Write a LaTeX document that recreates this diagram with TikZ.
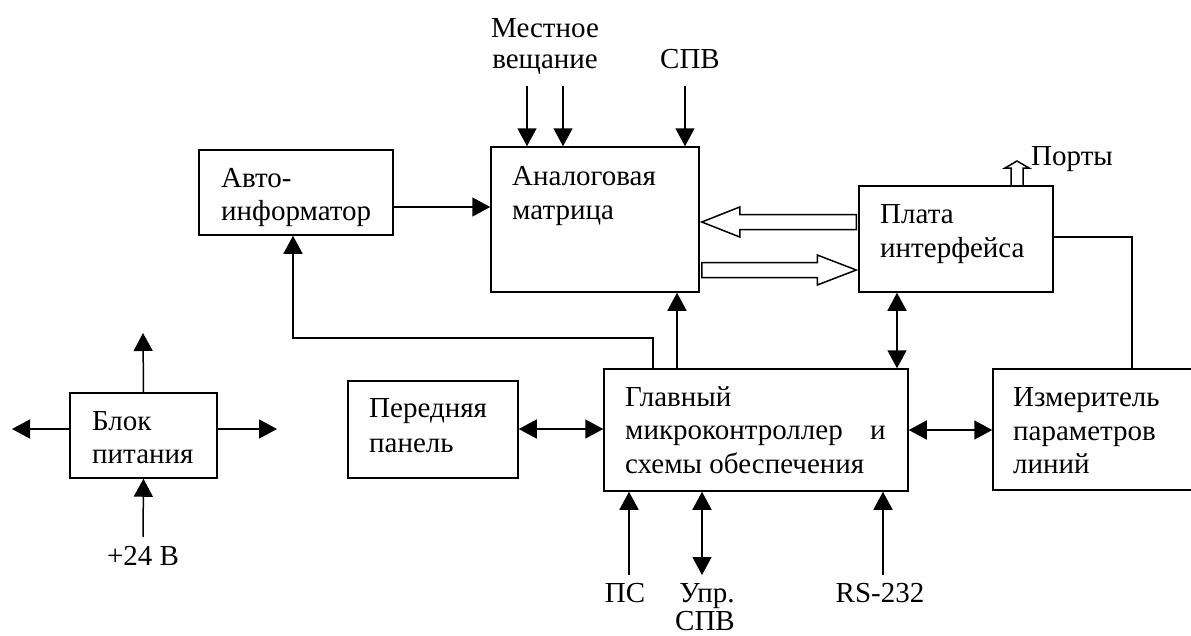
\documentclass[tikz,border=0pt]{standalone}
\usepackage{fontspec}
\setmainfont{Liberation Serif}
\usetikzlibrary{arrows.meta,calc}
\begin{document}
\begin{tikzpicture}[x=1pt,y=-1pt,
  blk/.style={draw,line width=1.5pt,inner sep=0pt},
  txt/.style={anchor=base west,inner sep=0pt,font=\fontsize{29}{34}\selectfont},
  ctxt/.style={anchor=base,inner sep=0pt,font=\fontsize{29}{34}\selectfont},
  conn/.style={line width=1.5pt},
  tip/.style={-{Triangle[length=18pt,width=19pt]}},
  tips/.style={{Triangle[length=18pt,width=19pt]}-{Triangle[length=18pt,width=19pt]}},
  hollow/.style={draw,line width=1.5pt,fill=white,line join=miter}]
\useasboundingbox (0,0) rectangle (1191,635);
\clip (0,0) rectangle (1191,635);
\fill[white] (0,0) rectangle (1191,635);
% boxes
\node[blk,minimum width=194pt,minimum height=85pt] (avto) at (296,192.5) {};
\node[blk,minimum width=208pt,minimum height=145pt] (matr) at (595,219.5) {};
\node[blk,minimum width=194pt,minimum height=106pt] (plata) at (956,239) {};
\node[blk,minimum width=147pt,minimum height=85pt] (bp) at (143.5,435.5) {};
\node[blk,minimum width=170pt,minimum height=97pt] (pp) at (433,429.5) {};
\node[blk,minimum width=304pt,minimum height=122pt] (main) at (756,430) {};
\node[blk,minimum width=207pt,minimum height=121pt] (izm) at (1096.5,429.5) {};
% texts in boxes
\node[txt] (avto1) at (221,187) {Авто-};
\node[txt] (avto2) at (221,220) {информатор};
\node[txt] (matr1) at (512,185) {Аналоговая};
\node[txt] (matr2) at (512,219) {матрица};
\node[txt] (plata1) at (880,223) {Плата};
\node[txt] (plata2) at (880,257) {интерфейса};
\node[txt] (bp1) at (92,430) {Блок};
\node[txt] (bp2) at (92,463) {питания};
\node[txt] (pp1) at (369,417) {Передняя};
\node[txt] (pp2) at (369,452) {панель};
\node[txt] (main1) at (625,406) {Главный};
\node[txt] (main2) at (625,439) {микроконтроллер};
\node[txt] (main2b) at (870,439) {и};
\node[txt] (main3) at (625,473) {схемы обеспечения};
\node[txt] (izm1) at (1013,406) {Измеритель};
\node[txt] (izm2) at (1013,440) {параметров};
\node[txt] (izm3) at (1013,473) {линий};
% outer labels
\node[ctxt] (lv1) at (545,37) {Местное};
\node[ctxt] (lv2) at (545,68) {вещание};
\node[ctxt] (spv) at (690,68) {СПВ};
\node[txt] (ports) at (1031,165) {Порты};
\node[ctxt] (ps) at (625,602) {ПС};
\node[ctxt] (upr1) at (707,602) {Упр.};
\node[ctxt] (upr2) at (705,630) {СПВ};
\node[ctxt] (rs) at (880,602) {RS-232};
\node[ctxt] (v24) at (143,565) {+24 В};
% coordinates
\coordinate (t1) at (527,86);
\coordinate (t2) at (563,86);
\coordinate (t3) at (685,86);
\coordinate (bpu) at (143,333);
\coordinate (bpl) at (12,429);
\coordinate (bpr) at (277,429);
\coordinate (bpd) at (143,537);
\coordinate (b1) at (629,575);
\coordinate (b2) at (702,575);
\coordinate (b3) at (883,575);
% connectors
\draw[conn,tip] (t1) -- (t1 |- matr.north);
\draw[conn,tip] (t2) -- (t2 |- matr.north);
\draw[conn,tip] (t3) -- (t3 |- matr.north);
\draw[conn,tip] (avto.east |- 0,207) -- (matr.west |- 0,207);
\draw[conn,tip] (main.north -| 653,0) |- (293,338) -- (avto.south -| 293,0);
\draw[conn,tip] (main.north -| 677,0) -- (matr.south -| 677,0);
\draw[conn,tips] (plata.south -| 897,0) -- (main.north -| 897,0);
\draw[conn,tips] (pp.east |- 0,429) -- (main.west |- 0,429);
\draw[conn,tips] (main.east |- 0,430) -- (izm.west |- 0,430);
\draw[conn] (plata.east |- 0,237) -| (izm.north -| 1132,0);
\draw[conn,tip] (bp.north) -- (bpu);
\draw[conn,tip] (bp.west |- bpl) -- (bpl);
\draw[conn,tip] (bp.east |- bpr) -- (bpr);
\draw[conn,tip] (bpd) -- (bp.south);
\draw[conn,tip] (b1) -- (b1 |- main.south);
\draw[conn,tips] (b2) -- (b2 |- main.south);
\draw[conn,tip] (b3) -- (b3 |- main.south);
% hollow arrows
\draw[hollow] ($(matr.east|-0,222)+(2,0)$) -- ++(38,-15) -- ++(0,7.5)
  -- ($(plata.west|-0,214.5)+(-2,0)$) -- ++(0,15)
  -- ($(matr.east|-0,229.5)+(40,0)$) -- ++(0,7.5) -- cycle;
\draw[hollow] ($(plata.west|-0,270)+(-2,0)$) -- ++(-39,-15) -- ++(0,7.5)
  -- ($(matr.east|-0,262.5)+(2,0)$) -- ++(0,15)
  -- ($(plata.west|-0,277.5)+(-41,0)$) -- ++(0,7.5) -- cycle;
\draw[hollow,fill=none] (plata.north -| 1011,0) -- (1011,168) -- (1005,168) -- (1017,161)
  -- (1029,168) -- (1023,168) -- (plata.north -| 1023,0);
\end{tikzpicture}
\end{document}
